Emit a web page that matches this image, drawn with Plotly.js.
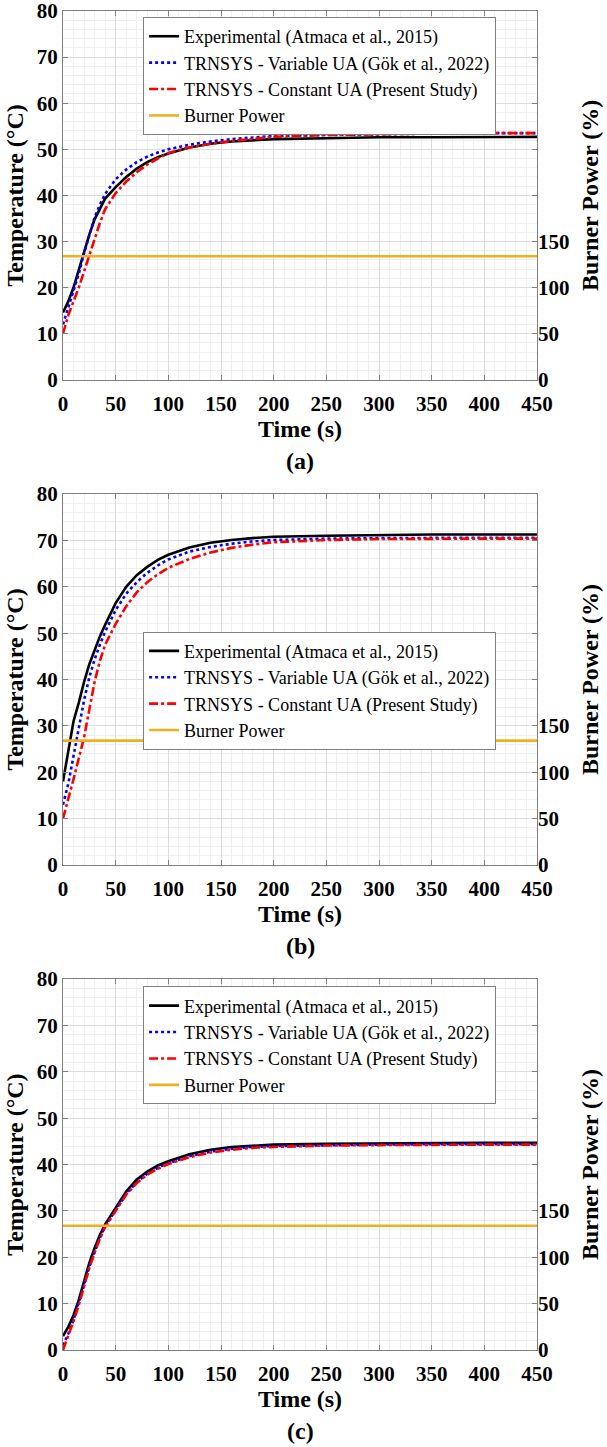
<!DOCTYPE html>
<html>
<head>
<meta charset="utf-8">
<script src="https://cdn.plot.ly/plotly-3.0.1.min.js"></script>
<style>html,body{margin:0;padding:0;background:#fff;}#chart{width:607px;height:1447px;}</style>
</head>
<body>
<div id="chart"></div>
<script>
// ---- Data ----
const time_s = [0,5,10,15,20,25,30,35,40,50,60,70,80,90,100,120,140,160,180,200,250,300,350,400,450];

// Panel (a)
const exp_a      = [14.6,17,20,24,27.8,31.5,34.8,37.2,39.3,41.8,44.0,45.8,47.2,48.3,49.1,50.4,51.2,51.7,52.0,52.2,52.4,52.6,52.6,52.6,52.7];
const varUA_a    = [12,15.5,19,23,27.5,31.5,35.2,38,40.3,43.5,45.6,47.2,48.4,49.3,50.0,51.0,51.7,52.2,52.6,52.9,53.1,53.3,53.4,53.5,53.5];
const constUA_a  = [10,14,17,20,23.5,26.8,30.5,34,37,40.5,43,45,46.7,48,49.2,50.4,51.2,51.8,52.3,52.7,53.1,53.3,53.4,53.5,53.5];

// Panel (b)
const exp_b      = [18,25,31,35,39.5,43.3,46.5,49.3,51.8,56.5,60,62.5,64.3,65.8,66.9,68.5,69.5,70.1,70.5,70.8,71.0,71.2,71.3,71.3,71.3];
const varUA_b    = [13,17.5,23.5,29.5,35.5,40.5,44.3,47.5,50.3,55,58.5,61,63,64.6,65.9,67.6,68.6,69.3,69.8,70.1,70.4,70.5,70.6,70.6,70.6];
const constUA_b  = [10,14,18.5,23,27.5,33.5,39.5,44,47.5,52,55.8,58.8,61,62.7,64.1,66,67.4,68.4,69.1,69.6,70.1,70.3,70.4,70.4,70.4];

// Panel (c)
const exp_c      = [3,5,7.5,10.8,14.8,18.8,22,24.8,27.1,30.8,34.2,36.8,38.5,39.8,40.7,42.2,43.2,43.8,44.1,44.3,44.5,44.6,44.7,44.7,44.7];
const varUA_c    = [1,3.5,6.5,10,14,18,21.2,24.2,26.7,30.3,33.7,36.2,38,39.3,40.3,41.8,42.8,43.4,43.8,44,44.2,44.3,44.4,44.4,44.4];
const constUA_c  = [0,3,6.2,9.7,13.7,17.7,21,24,26.5,30.1,33.5,36,37.8,39.1,40.1,41.6,42.6,43.2,43.6,43.8,44.1,44.2,44.3,44.3,44.3];

// Burner power (%), right axis
const burner_time  = [0,450];
const burner_power = [134,134];

const names = ['Experimental (Atmaca et al., 2015)','TRNSYS - Variable UA (Gök et al., 2022)','TRNSYS - Constant UA (Present Study)','Burner Power'];
const panelLabels = ['(a)','(b)','(c)'];
const xTicks = [0,50,100,150,200,250,300,350,400,450];
const yTicks = [0,10,20,30,40,50,60,70,80];
const rTicks = [0,50,100,150];

// ---- Styling ----
const FONT = '"Liberation Serif", "Times New Roman", serif';
const panels = [
  {exp:exp_a, v:varUA_a, c:constUA_a},
  {exp:exp_b, v:varUA_b, c:constUA_b},
  {exp:exp_c, v:varUA_c, c:constUA_c}
];
const domains = [[0.7246,1.0],[0.3623,0.6392],[0.0,0.2770]];
const legendPos = [0.9955, 0.5365, 0.2715];
const labelY = [0.664, 0.3016, -0.0606];

const traces = [];
const layout = {
  width:607, height:1447,
  margin:{l:63, r:70, t:11, b:97},
  paper_bgcolor:'#fff', plot_bgcolor:'#fff',
  font:{family:FONT, color:'#000'},
  showlegend:true,
  annotations:[]
};

panels.forEach((p,i)=>{
  const n = i+1;
  const xa = n===1 ? 'x' : 'x'+n;
  const ya = n===1 ? 'y' : 'y'+n;
  const yr = 'y'+(n+3);
  const lg = n===1 ? 'legend' : 'legend'+n;
  traces.push({x:time_s, y:p.exp, xaxis:xa, yaxis:ya, legend:lg, name:names[0], mode:'lines', line:{color:'#000000', width:2.6}});
  traces.push({x:time_s, y:p.v, xaxis:xa, yaxis:ya, legend:lg, name:names[1], mode:'lines', line:{color:'#0000ff', width:2.6, dash:'dot'}});
  traces.push({x:time_s, y:p.c, xaxis:xa, yaxis:ya, legend:lg, name:names[2], mode:'lines', line:{color:'#ff0000', width:2.6, dash:'dashdot'}});
  traces.push({x:burner_time, y:burner_power, xaxis:xa, yaxis:yr, legend:lg, name:names[3], mode:'lines', line:{color:'#EDB120', width:2.6}});

  const xk = n===1 ? 'xaxis' : 'xaxis'+n;
  const yk = n===1 ? 'yaxis' : 'yaxis'+n;
  const yrk = 'yaxis'+(n+3);
  layout[xk] = {
    domain:[0,1], anchor:ya, range:[0,450], tickvals:xTicks,
    ticks:'inside', ticklen:5, tickcolor:'#808080', mirror:'ticks',
    showline:true, linecolor:'#808080', linewidth:1,
    showgrid:true, gridcolor:'#dcdcdc', gridwidth:1, zeroline:false,
    minor:{dtick:10, showgrid:true, gridcolor:'#efefef', ticks:''},
    ticklabelstandoff:5, ticklabeloverflow:'allow',
    tickfont:{family:FONT, size:21, color:'#000', weight:'bold'},
    title:{text:'<b>Time (s)</b>', font:{family:FONT, size:24, color:'#000'}, standoff:2}
  };
  layout[yk] = {
    domain:domains[i], anchor:xa, range:[0,80], tickvals:yTicks,
    ticks:'inside', ticklen:5, tickcolor:'#808080', mirror:'ticks',
    showline:true, linecolor:'#808080', linewidth:1,
    showgrid:true, gridcolor:'#dcdcdc', gridwidth:1, zeroline:false,
    minor:{dtick:2, showgrid:true, gridcolor:'#efefef', ticks:''},
    ticklabeloverflow:'allow',
    tickfont:{family:FONT, size:21, color:'#000', weight:'bold'},
    title:{text:'<b>Temperature (°C)</b>', font:{family:FONT, size:24, color:'#000'}, standoff:6}
  };
  layout[yrk] = {
    overlaying:ya, anchor:xa, side:'right', range:[0,400], tickvals:rTicks,
    ticks:'inside', ticklen:5, tickcolor:'#808080',
    showline:false, showgrid:false, zeroline:false,
    ticklabeloverflow:'allow',
    tickfont:{family:FONT, size:21, color:'#000', weight:'bold'},
    title:{text:'<b>Burner Power (%)</b>', font:{family:FONT, size:24, color:'#000'}, standoff:12}
  };
  layout[lg] = {
    x:0.169, y:legendPos[i], xanchor:'left', yanchor:'top',
    bgcolor:'#ffffff', bordercolor:'#808080', borderwidth:1,
    font:{family:FONT, size:18, color:'#000'},
    tracegroupgap:0, itemwidth:30
  };
  layout.annotations.push({
    text:'<b>'+panelLabels[i]+'</b>', xref:'paper', yref:'paper', x:0.5, y:labelY[i],
    xanchor:'center', yanchor:'middle', showarrow:false,
    font:{family:FONT, size:24, color:'#000'}
  });
});

Plotly.newPlot('chart', traces, layout, {staticPlot:true, displayModeBar:false});
</script>
</body>
</html>
